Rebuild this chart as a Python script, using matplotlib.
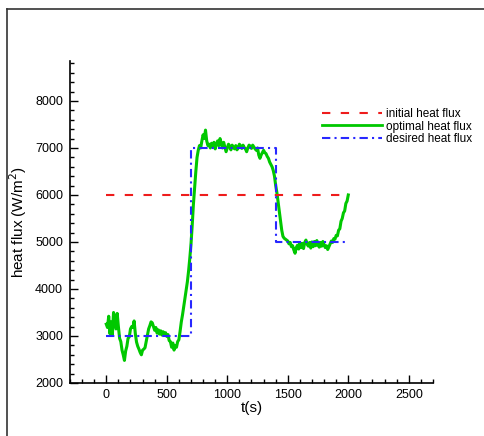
import numpy as np
import matplotlib
matplotlib.use("Agg")
from matplotlib import pyplot as plt
from matplotlib.lines import Line2D

plt.rcParams['font.family'] = ['Liberation Sans', 'DejaVu Sans']

# Data --------------------------------------
# initial guess and desired (target) heat flux, step values
initial_t = [0, 2000]
initial_q = [6000, 6000]

desired_t = [0, 700, 700, 1400, 1400, 2000]
desired_q = [3000, 3000, 7000, 7000, 5000, 5000]

# optimal (estimated) heat flux, every 10 s
optimal_t = np.arange(0, 2001, 10)
optimal_q = [3250, 3180, 3420, 3050, 3300, 3020, 3500, 3330, 3150, 3480,   # 0-90
             3200, 2950, 2880, 2700, 2600, 2480, 2680, 2780, 2950, 2980,   # 100-190
             3150, 3200, 3180, 3320, 3050, 2870, 2780, 2720, 2650, 2600,   # 200-290
             2700, 2720, 2750, 2880, 3000, 3150, 3220, 3300, 3280, 3200,   # 300-390
             3120, 3180, 3060, 3130, 3040, 3110, 3020, 3090, 3010, 3070,   # 400-490
             2990, 3030, 2900, 2880, 2760, 2850, 2700, 2790, 2760, 2880,   # 500-590
             2920, 3100, 3300, 3450, 3620, 3800, 3980, 4150, 4380, 4650,   # 600-690
             4950, 5350, 5800, 6150, 6500, 6800, 6950, 7050, 7000, 7150,   # 700-790
             7280, 7200, 7380, 7150, 7050, 7080, 7000, 7100, 7050, 7120,   # 800-890
             6980, 7080, 7150, 7050, 7200, 7100, 7000, 7120, 7020, 6920,   # 900-990
             7000, 7080, 7040, 6960, 7060, 7020, 6980, 7050, 6960, 7000,   # 1000-1090
             7080, 7040, 6990, 7060, 7010, 6980, 6920, 7000, 7060, 7040,   # 1100-1190
             6990, 7060, 7020, 6980, 6950, 7000, 6850, 6780, 6850, 6900,   # 1200-1290
             6950, 6900, 6880, 6820, 6780, 6700, 6650, 6600, 6520, 6400,   # 1300-1390
             6200, 6050, 5850, 5650, 5450, 5250, 5120, 5080, 5060, 5040,   # 1400-1490
             5020, 4960, 4990, 4900, 4920, 4830, 4760, 4880, 4930, 4850,   # 1500-1590
             4980, 4880, 4970, 4860, 4990, 5040, 4950, 4910, 4990, 4870,   # 1600-1690
             5000, 4900, 5010, 4920, 5030, 4940, 4890, 4990, 4910, 5010,   # 1700-1790
             4940, 4880, 4920, 4840, 4900, 4960, 5020, 4990, 5070, 5060,   # 1800-1890
             5140, 5130, 5250, 5280, 5440, 5500, 5620, 5660, 5820, 5870,   # 1900-1990
             6000]

x_ticks = [0, 500, 1000, 1500, 2000, 2500]
y_ticks = [2000, 3000, 4000, 5000, 6000, 7000, 8000]

red = "#ee1c1c"
green = "#00c800"
blue = "#2828ff"

fig = plt.figure(figsize=(4.84, 4.36), dpi=100)
ax = fig.add_axes([0.1446, 0.1216, 0.75, 0.7385])

# Curves --------------------------------------
ax.plot(optimal_t, optimal_q, color=green, lw=2.2)
ax.plot(initial_t, initial_q, color=red, lw=1.5, dashes=(4, 5))
ax.plot(desired_t, desired_q, color=blue, lw=1.5, dashes=(4, 2, 1, 2))

# Axis style --------------------------------------
ax.set_xlim(-300, 2700)
ax.set_ylim(2000, 8850)
ax.set_xticks(x_ticks)
ax.set_yticks(y_ticks)
ax.set_xticks(np.arange(-300, 2701, 100), minor=True)
ax.set_yticks(np.arange(2000, 8801, 200), minor=True)
for s in ['top', 'right']:
    ax.spines[s].set_visible(False)
for s in ['left', 'bottom']:
    ax.spines[s].set_linewidth(1.2)
ax.tick_params(which='both', direction='in', labelsize=9, width=1.0)
ax.tick_params(which='major', length=6)
ax.tick_params(which='minor', length=3)
ax.tick_params(axis='x', pad=4)
ax.tick_params(axis='y', pad=5)

ax.set_xlabel('t(s)', fontsize=11, labelpad=0)
ax.set_ylabel('heat flux (W/m$^2$)', fontsize=11, labelpad=4)

# Legend --------------------------------------
handles = [Line2D([], [], color=red, lw=1.5, dashes=(4, 5)),
           Line2D([], [], color=green, lw=2.0),
           Line2D([], [], color=blue, lw=1.5, dashes=(4, 2, 1, 2))]
labels = ['initial heat flux', 'optimal heat flux', 'desired heat flux']
fig.legend(handles, labels, loc='upper left', bbox_to_anchor=(322 / 484, 1 - 108 / 436),
           frameon=False, fontsize=8.5, handlelength=5.1, handletextpad=0.3,
           labelspacing=0.05, borderpad=0, borderaxespad=0)

# Frame round the figure
fig.add_artist(Line2D([7 / 484, 7 / 484], [0, 1 - 9 / 436], transform=fig.transFigure,
                      color='#333333', lw=1.2))
fig.add_artist(Line2D([7 / 484, 1], [1 - 9 / 436, 1 - 9 / 436], transform=fig.transFigure,
                      color='#333333', lw=1.2))

fig.savefig("out.png", dpi=100)
